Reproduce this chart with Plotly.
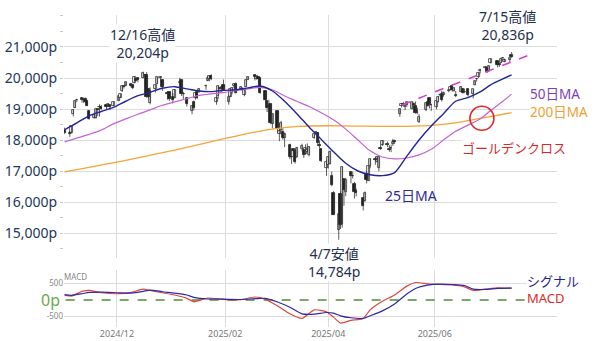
import plotly.graph_objects as go
import pandas as pd

# ---------------- data ----------------
holidays = ["2024-11-28", "2024-12-25", "2025-01-01", "2025-01-09", "2025-01-20",
            "2025-02-17", "2025-04-18", "2025-05-26", "2025-06-19", "2025-07-04"]

opens = [18290,18230,18220,18830,19040,19280,19340,19300,19310,19250,18950,18700,18700,19000,19050,19080,19130,19090,19120,19110,
         19260,19370,19570,19740,19740,19820,19760,19840,19960,19990,20000,20090,20100,19640,19200,19630,19820,19990,19930,19500,19550,
         19400,19370,19850,19930,19470,19350,18950,19210,19360,19550,19550,19730,19910,19960,20060,19240,19410,19680,19680,19770,
         19220,19400,19560,19740,19800,19640,19610,19460,19720,19950,20090,19980,20030,19990,19590,19270,19100,19150,18520,
         18930,18180,18320,18250,18070,17840,17440,17720,17650,17450,17720,17680,17550,17620,17530,18060,18220,18230,17830,17700,17100,
         17190,17230,16850,16280,15110,16260,15290,16750,16320,16970,16840,16580,16370,16130,16040,16890,16680,17150,17400,17300,17100,
         17750,17840,17880,17720,17740,17870,17980,18850,19090,19170,19050,19140,18990,19160,19090,18880,18580,18960,19230,19360,19120,
         19060,19230,19440,19480,19450,19590,19620,19730,19590,19450,19540,19650,19540,19630,19470,19780,19960,20020,20210,20320,
         20310,20210,20480,20540,20440,20500,20630,20530,20580,20750]
highs = [18400,18290,18450,18990,19290,19330,19370,19370,19370,19260,18960,18830,19010,19010,19150,19130,19160,19180,19120,19230,
         19410,19480,19740,19760,19870,19840,19800,20060,20010,20010,20204,20130,20190,19660,19700,19780,20040,20060,19930,19580,19560,
         19520,19640,20010,19940,19550,19360,19100,19270,19550,19580,19660,19790,20070,20060,20120,19430,19760,19720,19780,19950,
         19460,19660,19700,19800,19860,19730,19700,19670,19950,20050,20110,20070,20050,20000,19610,19290,19300,19170,18850,
         18960,18550,18620,18380,18240,17880,17670,17720,17700,17780,17880,17700,17860,17890,17800,18200,18280,18250,17990,17720,17340,
         17480,17660,16980,16350,16290,16340,17150,16760,16780,17000,16980,16650,16430,16140,16340,16990,17170,17400,17460,17480,17470,
         17850,18000,17950,17830,17850,18040,18010,19020,19190,19230,19150,19220,19230,19210,19240,19040,18840,19200,19250,19360,19170,
         19250,19420,19500,19590,19560,19640,19720,19800,19680,19580,19740,19670,19660,19640,19640,19920,19990,20180,20300,20390,
         20360,20400,20620,20560,20480,20660,20660,20630,20650,20836]
lows = [18200,18100,18210,18760,19030,19220,19200,19190,19190,19100,18660,18690,18690,18770,18760,18980,18990,19060,18960,19100,
        19250,19350,19550,19660,19730,19700,19640,19830,19900,19860,19990,20030,19370,19360,19150,19530,19800,19920,19580,19300,19260,
        19180,19350,19820,19420,19300,19080,18830,18950,19300,19330,19520,19620,19900,19900,19930,19140,19330,19520,19530,19600,
        19140,19390,19490,19670,19500,19610,19580,19410,19710,19940,19920,19950,19800,19490,19260,18900,18980,18540,18370,
        18240,17960,18180,18010,17770,17380,17230,17490,17240,17420,17640,17420,17520,17610,17470,18040,18180,17850,17730,17290,16850,
        17080,17210,16510,15580,14784,15130,15170,15880,16190,16600,16760,16110,16180,15730,16010,16600,16680,17090,17200,17280,16990,
        17680,17810,17770,17620,17610,17810,17870,18750,19050,19100,18960,19070,18980,19030,18850,18830,18550,18930,19080,19020,18940,
        18990,19210,19400,19240,19400,19540,19600,19560,19560,19380,19540,19500,19510,19400,19340,19760,19890,20000,20150,20270,
        20160,20200,20470,20340,20360,20490,20550,20510,20490,20650]
closes = [18239,18180,18439,18983,19269,19287,19298,19281,19231,19107,18680,18792,18987,18966,19060,19004,19054,19175,19060,19218,
          19404,19480,19735,19700,19860,19737,19687,20034,19902,19926,20173,20109,19393,19372,19573,19764,20031,20020,19722,19487,19311,
          19281,19622,19864,19490,19479,19162,19088,19044,19511,19339,19630,19757,20009,20053,19954,19342,19734,19633,19681,19627,
          19392,19654,19692,19791,19523,19714,19643,19650,19945,20027,20041,20056,19962,19524,19287,19026,19075,18544,18847,
          18350,18285,18553,18069,18196,17468,17436,17648,17303,17754,17809,17504,17751,17692,17784,18189,18272,17900,17805,17323,17299,
          17450,17601,16551,15588,15603,15268,17125,16387,16724,16832,16824,16307,16286,15870,16300,16708,17166,17383,17366,17461,17446,
          17711,17978,17844,17690,17738,17929,17929,19010,19146,19147,19112,19211,19215,19143,18873,18926,18737,19199,19101,19175,19114,
          19243,19399,19460,19299,19530,19591,19715,19615,19662,19407,19701,19521,19546,19447,19631,19913,19973,20168,20273,20370,
          20202,20393,20601,20412,20418,20611,20630,20586,20641,20677]

ma25_dates = ["2024-11-01","2024-11-08","2024-11-15","2024-11-22","2024-11-29","2024-12-06","2024-12-13","2024-12-20",
              "2024-12-27","2025-01-03","2025-01-10","2025-01-17","2025-01-24","2025-01-31","2025-02-07","2025-02-14",
              "2025-02-21","2025-02-28","2025-03-07","2025-03-14","2025-03-21","2025-03-28","2025-04-04","2025-04-11",
              "2025-04-18","2025-04-25","2025-05-02","2025-05-09","2025-05-16","2025-05-23","2025-05-30","2025-06-06",
              "2025-06-13","2025-06-20","2025-06-27","2025-07-03","2025-07-10","2025-07-15"]
ma25_vals = [18330,18550,18780,18920,19050,19250,19430,19540,19670,19720,19650,19580,19560,19600,19620,19680,
             19740,19580,19250,18850,18420,18020,17620,17250,17000,16880,16850,16950,17480,18000,18450,18850,
             19250,19370,19550,19780,19970,20100]

ma50_dates = ma25_dates
ma50_vals = [17940,18060,18180,18320,18520,18680,18830,18970,19120,19230,19330,19440,19490,19530,19590,19650,
             19700,19620,19420,19250,19080,18880,18650,18350,18000,17650,17450,17390,17420,17520,17700,18000,
             18280,18480,18680,18950,19250,19480]

ma200_dates = ["2024-11-01","2024-11-15","2024-12-01","2024-12-15","2025-01-01","2025-01-15","2025-02-01","2025-02-15",
               "2025-03-01","2025-03-15","2025-04-01","2025-04-15","2025-05-01","2025-05-15","2025-06-01","2025-06-15",
               "2025-06-27","2025-07-15"]
ma200_vals = [16970,17120,17290,17450,17650,17830,18050,18220,18360,18440,18460,18450,18440,18440,18480,18570,18700,18880]

macd_dates = ["2024-11-01","2024-11-05","2024-11-11","2024-11-15","2024-11-22","2024-12-02","2024-12-09","2024-12-16",
              "2024-12-20","2024-12-27","2025-01-03","2025-01-10","2025-01-14","2025-01-22","2025-01-27","2025-02-03",
              "2025-02-10","2025-02-18","2025-02-24","2025-03-03","2025-03-10","2025-03-17","2025-03-24","2025-03-31",
              "2025-04-04","2025-04-08","2025-04-14","2025-04-21","2025-04-25","2025-05-02","2025-05-09","2025-05-16",
              "2025-05-21","2025-05-28","2025-06-04","2025-06-11","2025-06-18","2025-06-23","2025-06-30","2025-07-07",
              "2025-07-15"]
macd_vals = [150,120,260,290,220,190,230,330,290,220,150,50,-50,60,40,0,
             10,90,20,-180,-420,-560,-300,-360,-520,-700,-620,-560,-300,-40,150,420,
             530,490,470,460,400,290,330,370,360]
signal_vals = [160,140,190,230,240,220,210,260,300,250,210,150,80,30,30,20,
               15,40,50,-60,-220,-420,-430,-380,-400,-480,-540,-560,-480,-330,-120,180,
               350,450,480,470,440,330,320,350,360]

trend_dates = ["2025-05-13", "2025-07-25"]
trend_vals = [19130, 20740]

cross_date = "2025-06-28"
cross_val = 18700

ytick_vals = [15000, 16000, 17000, 18000, 19000, 20000, 21000]
ytick_text = ["15,000p", "16,000p", "17,000p", "18,000p", "19,000p", "20,000p", "21,000p"]
xtick_vals = ["2024-12-01", "2025-02-01", "2025-04-01", "2025-06-01"]
xtick_text = ["2024/12", "2025/02", "2025/04", "2025/06"]

# ---------------- figure ----------------
dates = [d for d in pd.bdate_range("2024-11-01", "2025-07-15") if d.strftime("%Y-%m-%d") not in holidays]
n = min(len(dates), len(opens), len(highs), len(lows), len(closes))
dates = dates[:n]

FONT = "Noto Sans, Noto Sans CJK JP, sans-serif"
W, H = 600, 341
ML, MR, MT, MB = 64, 43, 15, 14
PW, PH = W - ML - MR, H - MT - MB


def px(x):
    return (x - ML) / PW


def py(y):
    return (H - MB - y) / PH


fig = go.Figure()

# wicks
wx, wy = [], []
for i in range(n):
    wx += [dates[i], dates[i], None]
    wy += [lows[i], highs[i], None]
fig.add_trace(go.Scatter(x=wx, y=wy, mode="lines", line=dict(color="#333333", width=0.8),
                         hoverinfo="skip", xaxis="x", yaxis="y"))

day_ms = 86400000
for up in (True, False):
    idx = [i for i in range(n) if (closes[i] >= opens[i]) == up]
    base = [min(opens[i], closes[i]) for i in idx]
    hgt = [max(abs(closes[i] - opens[i]), 15) for i in idx]
    fig.add_trace(go.Bar(
        x=[dates[i] for i in idx], y=hgt, base=base, width=1.35 * day_ms,
        marker=dict(color="white" if up else "#1e1e1e",
                    line=dict(color="#333333" if up else "#1e1e1e", width=0.8)),
        xaxis="x", yaxis="y", hoverinfo="skip"))

fig.add_trace(go.Scatter(x=ma200_dates, y=ma200_vals, mode="lines",
                         line=dict(color="#f3a536", width=1.3, shape="spline", smoothing=0.8), xaxis="x", yaxis="y"))
fig.add_trace(go.Scatter(x=ma50_dates, y=ma50_vals, mode="lines",
                         line=dict(color="#c462d6", width=1.2, shape="spline", smoothing=0.8), xaxis="x", yaxis="y"))
fig.add_trace(go.Scatter(x=ma25_dates, y=ma25_vals, mode="lines",
                         line=dict(color="#23239a", width=1.4, shape="spline", smoothing=0.8), xaxis="x", yaxis="y"))
fig.add_trace(go.Scatter(x=trend_dates, y=trend_vals, mode="lines",
                         line=dict(color="#d23fd2", width=1.6, dash="dash"), xaxis="x", yaxis="y"))

# MACD panel
fig.add_trace(go.Scatter(x=["2024-10-12", "2025-07-30"], y=[0, 0], mode="lines",
                         line=dict(color="#4f8f35", width=1.3, dash="dash"), xaxis="x2", yaxis="y2",
                         cliponaxis=False))
fig.add_trace(go.Scatter(x=macd_dates, y=macd_vals, mode="lines",
                         line=dict(color="#e0453a", width=1.2, shape="spline", smoothing=0.6), xaxis="x2", yaxis="y2"))
fig.add_trace(go.Scatter(x=macd_dates, y=signal_vals, mode="lines",
                         line=dict(color="#2b2ba8", width=1.2, shape="spline", smoothing=0.6), xaxis="x2", yaxis="y2"))

xrange = ["2024-10-31 16:00", "2025-08-10"]
grid = "#dcdcdc"
main_bottom = (H - MB - 258) / PH
macd_top = (H - MB - 270) / PH

fig.update_layout(
    width=W, height=H, margin=dict(l=ML, r=MR, t=MT, b=MB, autoexpand=False),
    paper_bgcolor="white", plot_bgcolor="white", showlegend=False,
    barmode="overlay", bargap=0,
    font=dict(family=FONT),
    xaxis=dict(domain=[0, 1], anchor="y", type="date", range=xrange, tickvals=xtick_vals,
               showticklabels=False, showgrid=True, gridcolor=grid, gridwidth=1, zeroline=False,
               showline=False, automargin=False),
    yaxis=dict(domain=[main_bottom, 1], anchor="x", range=[14194, 22032], tickvals=ytick_vals,
               ticktext=ytick_text, tickfont=dict(size=14, color="#22385a", family=FONT),
               showgrid=True, gridcolor=grid, gridwidth=1, zeroline=False, automargin=False,
               ticks="outside", ticklen=3, tickcolor="#c8c8c8",
               minor=dict(dtick=500, ticks="outside", ticklen=3, tickcolor="#c8c8c8", showgrid=False)),
    xaxis2=dict(domain=[0, 1], anchor="y2", type="date", range=xrange, matches="x",
                tickvals=xtick_vals, ticktext=xtick_text, tickfont=dict(size=9, color="#777777"),
                showgrid=True, gridcolor=grid, zeroline=False, ticklen=0, automargin=False),
    yaxis2=dict(domain=[0, macd_top], anchor="x2", range=[-820, 910], tickvals=[-500, 500],
                ticktext=["-500", "500"], tickfont=dict(size=8, color="#888888"),
                showgrid=True, gridcolor=grid, zeroline=False, automargin=False),
)

# golden cross circle
fig.add_shape(type="circle", xref="x", yref="y", xsizemode="pixel", ysizemode="pixel",
              xanchor=cross_date, yanchor=cross_val, x0=-12, x1=12, y0=-12, y1=12,
              line=dict(color="#e02828", width=1.6))


def note(text, x, y, color, size, bg=None, align="center"):
    fig.add_annotation(text=text, x=px(x), y=py(y), xref="paper", yref="paper",
                       showarrow=False, font=dict(size=size, color=color, family=FONT),
                       xanchor="center", yanchor="middle", bgcolor=bg, borderpad=0, align=align)


navy = "#1f3050"
note("12/16高値<br>20,204p", 142, 43, navy, 14, "white")
note("7/15高値<br>20,836p", 507, 26, navy, 14, "white")
note("4/7安値<br>14,784p", 334, 262, navy, 14, "white")
note("<span style='color:#7b3fb8'>50日MA</span><br>200日MA", 559, 103, "#f0a030", 13.5, "white", "left")
note("ゴールデンクロス", 514, 148, "#d42a2a", 13, "white")
note("25日MA", 411, 196, "#2b2b9b", 14)
note("<span style='color:#1f1f8f'>シグナル</span><br>MACD", 553, 289, "#e02a2a", 13, "white", "left")
note("0p", 50, 300, "#6aa84f", 16)
note("MACD", 75, 276, "#888888", 8)

fig.write_html("out.html")
